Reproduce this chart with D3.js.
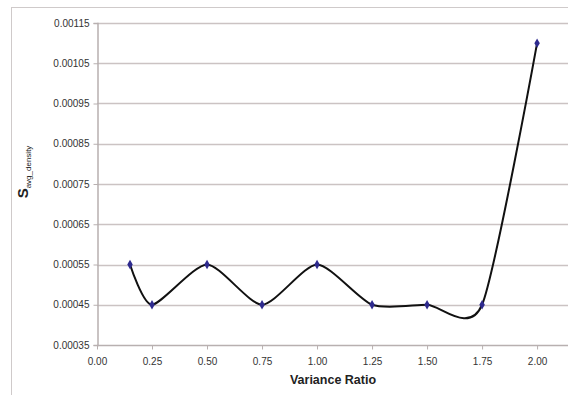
<!DOCTYPE html>
<html>
<head>
<meta charset="utf-8">
<script src="https://cdn.jsdelivr.net/npm/d3@7"></script>
<style>
  html, body { margin: 0; padding: 0; background: #fff; }
  svg { display: block; font-family: "Liberation Sans", Arial, sans-serif; }
</style>
</head>
<body>
<svg id="chart" width="568" height="395"></svg>
<script>
// Variance ratio vs. average density spread
const varianceRatio = [0.15, 0.25, 0.50, 0.75, 1.00, 1.25, 1.50, 1.75, 2.00];
const avgDensity = [0.00055, 0.00045, 0.00055, 0.00045, 0.00055, 0.00045, 0.00045, 0.00045, 0.0011];
const xTicks = [0, 0.25, 0.5, 0.75, 1.0, 1.25, 1.5, 1.75, 2.0];
const yTicks = [0.00035, 0.00045, 0.00055, 0.00065, 0.00075, 0.00085, 0.00095, 0.00105, 0.00115];

const svg = d3.select("#chart");
const W = 568, H = 395;
const plot = { left: 97, right: 569, top: 23, bottom: 345 };

// outer chart frame
svg.append("rect")
  .attr("x", 11.5).attr("y", 7.5)
  .attr("width", W + 10).attr("height", H + 10)
  .attr("fill", "#fff")
  .attr("stroke", "#cfcaca").attr("stroke-width", 1);

const x = d3.scaleLinear().domain([0, 2.145]).range([plot.left, plot.right]);
const y = d3.scaleLinear().domain([0.00035, 0.00115]).range([plot.bottom, plot.top]);

// horizontal gridlines
svg.append("g")
  .selectAll("line")
  .data(yTicks.slice(1))
  .join("line")
  .attr("x1", plot.left).attr("x2", plot.right)
  .attr("y1", d => Math.round(y(d)) + 0.5).attr("y2", d => Math.round(y(d)) + 0.5)
  .attr("stroke", "#cbc3c3").attr("stroke-width", 1.5);

// y axis
const yAxis = svg.append("g")
  .attr("transform", `translate(${plot.left + 0.5},0)`)
  .call(d3.axisLeft(y).tickValues(yTicks).tickFormat(d3.format(".5f")).tickSize(4).tickPadding(4));

// x axis
const xAxis = svg.append("g")
  .attr("transform", `translate(0,${plot.bottom + 0.5})`)
  .call(d3.axisBottom(x).tickValues(xTicks).tickFormat(d3.format(".2f")).tickSize(4).tickPadding(8));

[yAxis, xAxis].forEach(g => {
  g.selectAll(".domain").attr("stroke", "#b8b0b0").attr("stroke-width", 1.5);
  g.selectAll(".tick line").attr("stroke", "#b8b0b0");
  g.selectAll(".tick text").attr("fill", "#333").attr("font-size", 10);
});
xAxis.select(".domain").attr("d", `M${plot.left},0H${plot.right}`);

// smoothed series line
const line = d3.line()
  .x((d, i) => x(varianceRatio[i]))
  .y(d => y(d))
  .curve(d3.curveCardinal.tension(0.3));

svg.append("path")
  .datum(avgDensity)
  .attr("d", line)
  .attr("fill", "none")
  .attr("stroke", "#111")
  .attr("stroke-width", 2);

// diamond markers
const diamond = d3.symbol().type(d3.symbolDiamond).size(26);
svg.append("g")
  .selectAll("path")
  .data(avgDensity)
  .join("path")
  .attr("d", diamond)
  .attr("transform", (d, i) => `translate(${x(varianceRatio[i])},${y(d)})`)
  .attr("fill", "#2e2a8e");

// axis titles
svg.append("text")
  .attr("x", (plot.left + plot.right) / 2)
  .attr("y", 384)
  .attr("text-anchor", "middle")
  .attr("font-size", 12.5)
  .attr("font-weight", "bold")
  .attr("fill", "#222")
  .text("Variance Ratio");

const yTitle = svg.append("text")
  .attr("transform", "translate(28,172) rotate(-90)")
  .attr("text-anchor", "middle")
  .attr("fill", "#222");
yTitle.append("tspan")
  .attr("font-size", 15).attr("font-weight", "bold")
  .text("S");
yTitle.append("tspan")
  .attr("font-size", 8).attr("dy", 3)
  .text("avg_density");
</script>
</body>
</html>
